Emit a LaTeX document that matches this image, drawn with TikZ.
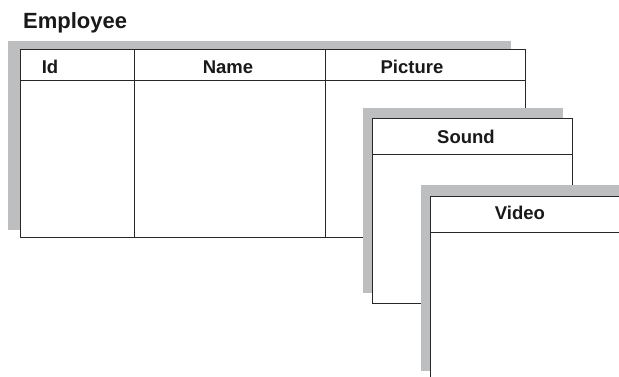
\documentclass[tikz,border=0pt]{standalone}
\usepackage{fontspec}
\setmainfont{Liberation Sans}
\definecolor{shadowgray}{RGB}{189,190,192}
\definecolor{linegray}{RGB}{40,40,40}
\tikzset{
  shadowbox/.style={fill=shadowgray, draw=none},
  framebox/.style={fill=white, draw=linegray, line width=1pt},
  rule/.style={draw=linegray, line width=1pt},
  headtext/.style={font=\fontsize{18.5}{20}\selectfont\bfseries, text=black!90, inner sep=0pt, anchor=base},
  titletext/.style={font=\fontsize{22}{24}\selectfont\bfseries, text=black!90, inner sep=0pt, anchor=base west},
}
\begin{document}
\begin{tikzpicture}[x=1pt,y=-1pt]
\useasboundingbox (0,0) rectangle (619,376);
\clip (0,0) rectangle (619,376);
% title
\node[titletext] (title) at (23,28) {Employee};
% Employee table
\fill[shadowbox] (8,41) rectangle (511,230);
\draw[framebox] (20,49) rectangle (525,237);
\coordinate (eh1) at (20,80);
\coordinate (eh2) at (525,80);
\draw[rule] (eh1) -- (eh2);
\coordinate (c1t) at (134,49);
\coordinate (c1b) at (134,237);
\coordinate (c2t) at (325,49);
\coordinate (c2b) at (325,237);
\draw[rule] (c1t) -- (c1b);
\draw[rule] (c2t) -- (c2b);
\node[headtext] (id) at (50,73) {Id};
\node[headtext] (name) at (228,73) {Name};
\node[headtext] (picture) at (412,73) {Picture};
% Sound table
\fill[shadowbox] (363,108) rectangle (563,293);
\draw[framebox] (372,118) rectangle (572,303);
\coordinate (sh1) at (372,154);
\coordinate (sh2) at (572,154);
\draw[rule] (sh1) -- (sh2);
\node[headtext] (sound) at (466,143) {Sound};
% Video table
\fill[shadowbox] (421,185) rectangle (640,371);
\draw[framebox] (430,196) rectangle (650,400);
\coordinate (vh1) at (430,232);
\coordinate (vh2) at (650,232);
\draw[rule] (vh1) -- (vh2);
\node[headtext] (video) at (520,219) {Video};
\end{tikzpicture}
\end{document}
